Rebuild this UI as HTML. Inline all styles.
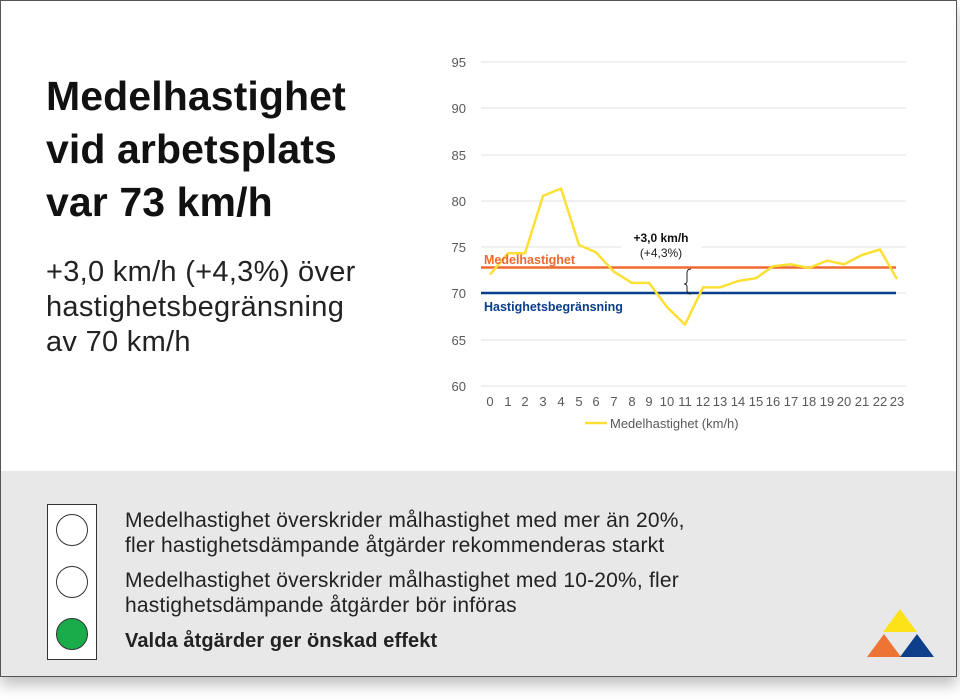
<!DOCTYPE html>
<html><head><meta charset="utf-8"><style>
body{margin:0;width:960px;height:700px;background:#fff;font-family:"Liberation Sans",sans-serif;position:relative;overflow:hidden}
.card{position:absolute;left:0;top:0;width:955px;height:675px;border:1px solid #555;background:#fff;box-shadow:0 8px 14px rgba(0,0,0,.25)}
.bot{position:absolute;left:0;top:470px;width:955px;height:205px;background:#e8e8e8}
h1{position:absolute;left:45px;top:69px;margin:0;font-size:41px;line-height:53px;font-weight:bold;color:#111;letter-spacing:0.1px}
.sub{position:absolute;left:45px;top:254px;font-size:29px;line-height:35px;color:#222;letter-spacing:0.3px}
.tl{position:absolute;left:46px;top:503px;width:48px;height:154px;border:1px solid #333;background:#fff}
.c{position:absolute;left:8px;width:30px;height:30px;border:1.5px solid #333;border-radius:50%;background:#fff}
.t{position:absolute;left:124px;font-size:21px;line-height:25px;color:#222;letter-spacing:0.2px}
</style></head><body>
<div class="card">
<h1>Medelhastighet<br>vid arbetsplats<br>var 73 km/h</h1>
<div class="sub">+3,0 km/h (+4,3%) över<br>hastighetsbegränsning<br>av 70 km/h</div>
<svg style="position:absolute;left:0;top:0" width="955" height="470" font-family="Liberation Sans,sans-serif">
<g stroke="#e0e0e0" stroke-width="1">
<line x1="480" x2="905" y1="61" y2="61"/><line x1="480" x2="905" y1="107" y2="107"/><line x1="480" x2="905" y1="154" y2="154"/><line x1="480" x2="905" y1="200" y2="200"/><line x1="480" x2="905" y1="246" y2="246"/><line x1="480" x2="905" y1="292" y2="292"/><line x1="480" x2="905" y1="339" y2="339"/><line x1="480" x2="905" y1="385" y2="385"/>
</g>
<g fill="#595959" font-size="13" text-anchor="end">
<text x="465" y="66">95</text><text x="465" y="112">90</text><text x="465" y="159">85</text><text x="465" y="205">80</text><text x="465" y="251">75</text><text x="465" y="297">70</text><text x="465" y="344">65</text><text x="465" y="390">60</text>
</g>
<g fill="#595959" font-size="13" text-anchor="middle">
<text x="489" y="405">0</text><text x="507" y="405">1</text><text x="524" y="405">2</text><text x="542" y="405">3</text><text x="560" y="405">4</text><text x="578" y="405">5</text><text x="595" y="405">6</text><text x="613" y="405">7</text><text x="631" y="405">8</text><text x="648" y="405">9</text><text x="666" y="405">10</text><text x="684" y="405">11</text><text x="702" y="405">12</text><text x="719" y="405">13</text><text x="737" y="405">14</text><text x="755" y="405">15</text><text x="772" y="405">16</text><text x="790" y="405">17</text><text x="808" y="405">18</text><text x="826" y="405">19</text><text x="843" y="405">20</text><text x="861" y="405">21</text><text x="879" y="405">22</text><text x="896" y="405">23</text>
</g>
<rect x="620" y="228" width="80" height="34" fill="#fff"/>
<line x1="480" x2="895" y1="266.5" y2="266.5" stroke="#ee6a30" stroke-width="2.5"/>
<line x1="480" x2="895" y1="292" y2="292" stroke="#0a3d8c" stroke-width="2.5"/>
<polyline fill="none" stroke="#fde033" stroke-width="2.5" stroke-linejoin="round" points="489,273.6 507,252.3 524,252.3 542,194.9 560,187.5 578,244.0 595,251.4 613,270.8 631,281.9 648,281.9 666,306.0 684,323.6 702,286.4 719,286.4 737,280.0 755,277.2 772,265.2 790,263.3 808,267.0 826,259.6 843,263.3 861,254.0 879,248.5 896,278.1"/>
<path d="M690,268 q-4,0 -4,4 v8 q0,3 -3,3 q3,0 3,3 v3 q0,4 4,4" fill="none" stroke="#222" stroke-width="1"/>
<text x="483" y="263" fill="#ee6a30" font-size="12.5" font-weight="bold">Medelhastighet</text>
<text x="483" y="310" fill="#0a3d8c" font-size="12.5" font-weight="bold">Hastighetsbegränsning</text>
<text x="660" y="241" fill="#111" font-size="12" font-weight="bold" text-anchor="middle">+3,0 km/h</text>
<text x="660" y="256" fill="#222" font-size="12" text-anchor="middle">(+4,3%)</text>
<line x1="584" x2="606" y1="422" y2="422" stroke="#fde033" stroke-width="2.5"/>
<text x="609" y="427" fill="#595959" font-size="13">Medelhastighet (km/h)</text>
</svg>
<div class="bot"></div>
<div class="tl"><div class="c" style="top:9px"></div><div class="c" style="top:61px"></div><div class="c" style="top:113px;background:#1aab4b"></div></div>
<div class="t" style="top:507px">Medelhastighet överskrider målhastighet med mer än 20%,<br>fler hastighetsdämpande åtgärder rekommenderas starkt</div>
<div class="t" style="top:567px">Medelhastighet överskrider målhastighet med 10-20%, fler<br>hastighetsdämpande åtgärder bör införas</div>
<div class="t" style="top:628px;font-weight:bold;font-size:20px;letter-spacing:0.1px">Valda åtgärder ger önskad effekt</div>
<svg style="position:absolute;left:866px;top:606px" width="70" height="52">
<polygon points="33,2 50,25 16,25" fill="#fde21a"/>
<polygon points="17,27 34,50 0,50" fill="#ee7434"/>
<polygon points="50,27 67,50 33,50" fill="#0d3f8a"/>
</svg>
</div>
</body></html>
